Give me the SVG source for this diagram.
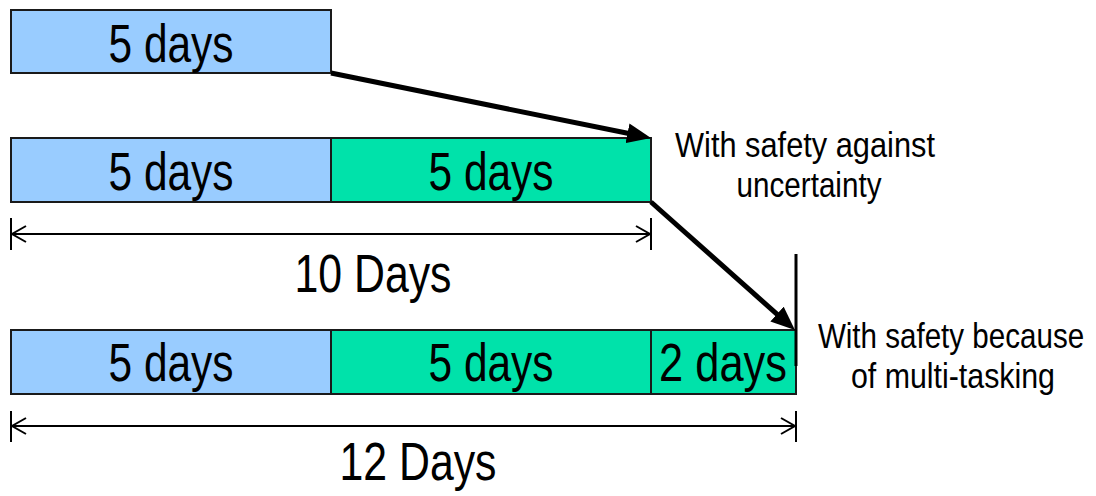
<svg xmlns="http://www.w3.org/2000/svg" width="1096" height="496" viewBox="0 0 1096 496">
  <style>
    .blue { fill: #99CCFF; stroke: #1a1a1a; stroke-width: 2; }
    .green { fill: #00E2AA; stroke: #1a1a1a; stroke-width: 2; }
    .big { font-family: "Liberation Sans", Arial, sans-serif; font-size: 53px; fill: #000; text-anchor: middle; }
    .note { font-family: "Liberation Sans", Arial, sans-serif; font-size: 35px; fill: #000; text-anchor: middle; }
    .flow { stroke: #000; stroke-width: 5; fill: none; marker-end: url(#head); }
    .dim { stroke: #000; stroke-width: 2; fill: none; marker-start: url(#chev); marker-end: url(#chev); }
    .tick { stroke: #000; stroke-width: 2; }
  </style>
  <defs>
    <marker id="head" viewBox="0 0 24 20" refX="4" refY="10" markerWidth="24" markerHeight="20" markerUnits="userSpaceOnUse" orient="auto">
      <path d="M0,0 L24,10 L0,20 z" fill="#000"/>
    </marker>
    <marker id="chev" viewBox="-2 -2 18 20" refX="14" refY="8" markerWidth="18" markerHeight="20" markerUnits="userSpaceOnUse" orient="auto-start-reverse">
      <path d="M0,0 L14,8 L0,16" fill="none" stroke="#000" stroke-width="2"/>
    </marker>
  </defs>

  <!-- plain task estimate -->
  <g id="task-estimate">
    <rect class="blue" x="11" y="10" width="320" height="63"/>
    <text class="big" x="171" y="62" textLength="125" lengthAdjust="spacingAndGlyphs">5 days</text>
  </g>

  <!-- estimate padded for uncertainty -->
  <g id="padded-estimate">
    <rect class="blue" x="11" y="138" width="320" height="64"/>
    <rect class="green" x="331" y="138" width="320" height="64"/>
    <text class="big" x="171" y="190" textLength="125" lengthAdjust="spacingAndGlyphs">5 days</text>
    <text class="big" x="491" y="190" textLength="125" lengthAdjust="spacingAndGlyphs">5 days</text>
  </g>

  <g id="span-10">
    <line class="tick" x1="11" y1="218" x2="11" y2="250"/>
    <line class="tick" x1="651" y1="218" x2="651" y2="250"/>
    <line class="dim" x1="12" y1="234" x2="650" y2="234"/>
    <text class="big" x="373" y="292" textLength="157" lengthAdjust="spacingAndGlyphs">10 Days</text>
  </g>

  <g id="note-uncertainty">
    <text class="note" x="805" y="157" textLength="260" lengthAdjust="spacingAndGlyphs">With safety against</text>
    <text class="note" x="809" y="197" textLength="145" lengthAdjust="spacingAndGlyphs">uncertainty</text>
  </g>

  <!-- estimate padded again for multi-tasking -->
  <g id="multitask-estimate">
    <rect class="blue" x="11" y="330" width="320" height="64"/>
    <rect class="green" x="331" y="330" width="320" height="64"/>
    <rect class="green" x="651" y="330" width="145" height="64"/>
    <text class="big" x="171" y="381" textLength="125" lengthAdjust="spacingAndGlyphs">5 days</text>
    <text class="big" x="491" y="381" textLength="125" lengthAdjust="spacingAndGlyphs">5 days</text>
    <text class="big" x="723" y="381" textLength="128" lengthAdjust="spacingAndGlyphs">2 days</text>
  </g>

  <g id="span-12">
    <line class="tick" x1="11" y1="411" x2="11" y2="442"/>
    <line class="tick" x1="796" y1="411" x2="796" y2="442"/>
    <line class="dim" x1="12" y1="426" x2="795" y2="426"/>
    <text class="big" x="418" y="480" textLength="157" lengthAdjust="spacingAndGlyphs">12 Days</text>
  </g>

  <g id="note-multitasking">
    <!-- condensed horizontally so the line stays inside the right edge -->
    <text class="note" transform="translate(951,348) scale(0.845,1)" x="0" y="0">With safety because</text>
    <text class="note" x="953" y="388" textLength="204" lengthAdjust="spacingAndGlyphs">of multi-tasking</text>
  </g>

  <g id="connectors">
    <line class="flow" x1="331" y1="73" x2="631.4" y2="134"/>
    <line class="flow" x1="651" y1="202" x2="780" y2="316.8"/>
    <line stroke="#000" stroke-width="3" x1="796" y1="254" x2="796" y2="366"/>
  </g>
</svg>
